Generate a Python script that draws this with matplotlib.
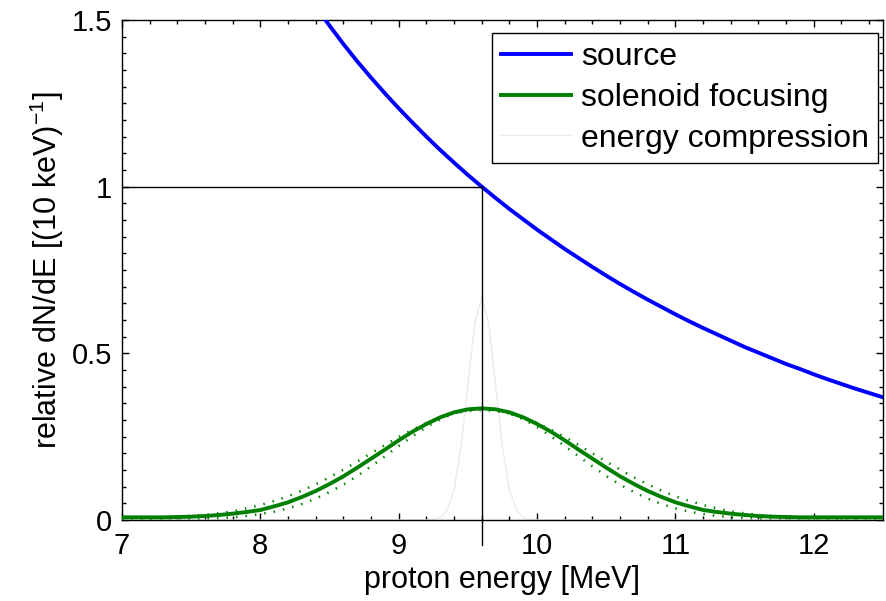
import numpy as np
import matplotlib
matplotlib.use("Agg")
import matplotlib.pyplot as plt
from matplotlib.ticker import MultipleLocator

plt.rcParams['font.family'] = ['Liberation Sans', 'DejaVu Sans']
plt.rcParams['mathtext.default'] = 'regular'

# ---------------- data ----------------
# source spectrum (relative dN/dE), energy grid 8.4 ... 12.5 step 0.1
source_E = np.linspace(8.4, 12.5, 42)
source_v = [1.540, 1.483, 1.428, 1.376, 1.327, 1.280, 1.235, 1.192, 1.150, 1.110,
            1.072, 1.035, 1.000, 0.966, 0.933, 0.902, 0.871, 0.842, 0.813, 0.786,
            0.759, 0.733, 0.708, 0.684, 0.661, 0.639, 0.617, 0.596, 0.576, 0.557,
            0.538, 0.519, 0.502, 0.485, 0.468, 0.453, 0.437, 0.422, 0.408, 0.394,
            0.381, 0.368]

# energy grid for solenoid focusing (7.0 ... 12.5, step 0.1)
sol_E = np.linspace(7.0, 12.5, 56)
sol_main = [0.008, 0.008, 0.008, 0.008, 0.009, 0.010, 0.012, 0.015, 0.019, 0.024,
            0.030, 0.041, 0.053, 0.069, 0.087, 0.108, 0.131, 0.157, 0.184, 0.211,
            0.239, 0.265, 0.288, 0.308, 0.323, 0.332,
            0.335,
            0.332, 0.323, 0.308, 0.288, 0.265, 0.239, 0.211, 0.184, 0.157, 0.131,
            0.108, 0.087, 0.069, 0.053, 0.041, 0.030, 0.024, 0.019, 0.015, 0.012,
            0.010, 0.009, 0.008, 0.008, 0.008, 0.008, 0.008, 0.008, 0.008]
sol_wide = [0.006, 0.006, 0.007, 0.008, 0.010, 0.012, 0.015, 0.020, 0.026, 0.035,
            0.045, 0.057, 0.071, 0.088, 0.107, 0.128, 0.151, 0.175, 0.200, 0.225,
            0.249, 0.271, 0.291, 0.308, 0.320, 0.327,
            0.330,
            0.327, 0.320, 0.308, 0.291, 0.271, 0.249, 0.225, 0.200, 0.175, 0.151,
            0.128, 0.107, 0.088, 0.071, 0.057, 0.045, 0.035, 0.026, 0.020, 0.015,
            0.012, 0.010, 0.008, 0.007, 0.006, 0.006, 0.006, 0.006, 0.006]
sol_narrow = [0.005, 0.005, 0.005, 0.005, 0.005, 0.005, 0.005, 0.006, 0.008, 0.012,
              0.018, 0.025, 0.035, 0.048, 0.064, 0.084, 0.106, 0.132, 0.161, 0.191,
              0.222, 0.251, 0.279, 0.302, 0.320, 0.331,
              0.335,
              0.331, 0.320, 0.302, 0.279, 0.251, 0.222, 0.191, 0.161, 0.132, 0.106,
              0.084, 0.064, 0.048, 0.035, 0.025, 0.018, 0.012, 0.008, 0.006, 0.005,
              0.005, 0.005, 0.005, 0.005, 0.005, 0.005, 0.005, 0.005, 0.005]

# energy compression
comp_E = [7.0, 9.2, 9.25, 9.3, 9.35, 9.4, 9.45, 9.5, 9.55, 9.6, 9.65, 9.7,
          9.75, 9.8, 9.85, 9.9, 9.95, 10.0, 12.5]
comp_v = [0.0, 0.0, 0.002, 0.007, 0.029, 0.091, 0.218, 0.406, 0.591, 0.67, 0.591, 0.406,
          0.218, 0.091, 0.029, 0.007, 0.002, 0.0, 0.0]

# reference marker
ref_E = 9.6
ref_v = 1.0

# ---------------- figure ----------------
fig = plt.figure(figsize=(8.86, 6.01), dpi=100)
ax = fig.add_axes([122/886, 1-520/601, 761/886, 500/601])

ax.plot(source_E, source_v, color='#0000ff', lw=2.8, label='source', zorder=4)
ax.plot(sol_E, sol_wide, color='#008000', lw=1.8, ls=(0, (0.6, 3.2)), zorder=3)
ax.plot(sol_E, sol_narrow, color='#008000', lw=1.8, ls=(0, (0.6, 3.2)), zorder=3)
ax.plot(sol_E, sol_main, color='#008000', lw=2.8, label='solenoid focusing', zorder=4)
ax.plot(comp_E, comp_v, color='#ebebeb', lw=1.0, label='energy compression', zorder=2)

# reference lines
ax.plot([7.0, ref_E], [ref_v, ref_v], color='black', lw=1.0, zorder=5)
ax.plot([ref_E, ref_E], [-0.075, ref_v], color='black', lw=1.0, zorder=5, clip_on=False)

ax.set_xlim(7, 12.5)
ax.set_ylim(0, 1.5)
ax.set_xticks([7, 8, 9, 10, 11, 12])
ax.set_yticks([0, 0.5, 1, 1.5])
ax.set_yticklabels(['0', '0.5', '1', '1.5'])
ax.xaxis.set_minor_locator(MultipleLocator(0.2))
ax.yaxis.set_minor_locator(MultipleLocator(0.05))
ax.tick_params(which='both', direction='in', top=True, right=True, width=1.0, color='black')
ax.tick_params(which='major', length=5, labelsize=21)
ax.tick_params(which='minor', length=3)
ax.tick_params(axis='x', which='major', pad=9)
ax.tick_params(axis='y', which='major', pad=7)
for s in ax.spines.values():
    s.set_linewidth(1.0)
    s.set_color('black')

ax.set_xlabel('proton energy [MeV]', fontsize=22, labelpad=3)
ax.set_ylabel('relative dN/dE [(10 keV)$^{-1}$]', fontsize=22, labelpad=4)

leg = ax.legend(loc='upper right', bbox_to_anchor=(1 - 5/761, 1 - 13/500),
                borderaxespad=0, fontsize=23, handlelength=2.2, handletextpad=0.3,
                labelspacing=0.34, borderpad=0.28, fancybox=False, framealpha=1,
                edgecolor='black')
leg.get_frame().set_linewidth(1.0)

fig.savefig('out.png', dpi=100)
